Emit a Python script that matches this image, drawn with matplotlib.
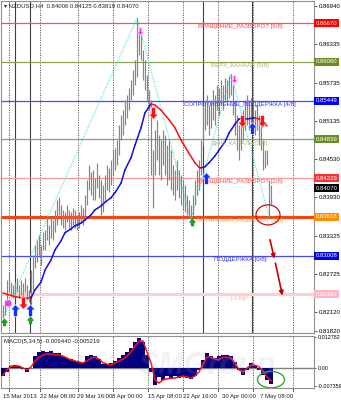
import numpy as np
import matplotlib.pyplot as plt
from matplotlib.path import Path
from matplotlib.patches import Ellipse
from matplotlib.transforms import blended_transform_factory

plt.rcParams['font.family'] = ['Liberation Sans', 'DejaVu Sans']

# NZDUSD H4, every other bar (15 Mar - 7 May 2013)
high = [0.8223, 0.8231, 0.8263, 0.8275, 0.8259, 0.8255, 0.8259, 0.8266, 0.8255, 0.8263,
        0.8258, 0.8266, 0.8255, 0.8247, 0.8278, 0.8302, 0.8318, 0.8326, 0.8333, 0.8318,
        0.8338, 0.8341, 0.8365, 0.8349, 0.8360, 0.8357, 0.8373, 0.8389, 0.8393, 0.8381,
        0.8373, 0.8370, 0.8381, 0.8373, 0.8370, 0.8376, 0.8373, 0.8365, 0.8370, 0.8381,
        0.8376, 0.8396, 0.8420, 0.8444, 0.8433, 0.8436, 0.8423, 0.8447, 0.8428, 0.8420,
        0.8412, 0.8428, 0.8444, 0.8439, 0.8452, 0.8467, 0.8470, 0.8483, 0.8507, 0.8522,
        0.8530, 0.8546, 0.8554, 0.8565, 0.8578, 0.8593, 0.8609, 0.8675, 0.8656, 0.8648,
        0.8625, 0.8609, 0.8585, 0.8562, 0.8546, 0.8467, 0.8499, 0.8515, 0.8491, 0.8483,
        0.8499, 0.8491, 0.8475, 0.8483, 0.8467, 0.8444, 0.8436, 0.8452, 0.8436, 0.8428,
        0.8420, 0.8412, 0.8396, 0.8389, 0.8381, 0.8396, 0.8420, 0.8436, 0.8452, 0.8483,
        0.8538, 0.8546, 0.8554, 0.8538, 0.8546, 0.8562, 0.8554, 0.8570, 0.8565, 0.8578,
        0.8570, 0.8581, 0.8578, 0.8584, 0.8587, 0.8570, 0.8546, 0.8522, 0.8507, 0.8522,
        0.8530, 0.8546, 0.8554, 0.8546, 0.8549, 0.8538, 0.8530, 0.8538, 0.8522, 0.8515,
        0.8483, 0.8467, 0.8467, 0.8420, 0.84125]
low = [0.8203, 0.8207, 0.8231, 0.8244, 0.8237, 0.8234, 0.8239, 0.8244, 0.8234, 0.8239,
       0.8234, 0.8244, 0.8231, 0.8228, 0.8223, 0.8247, 0.8281, 0.8291, 0.8302, 0.8286,
       0.8310, 0.8310, 0.8326, 0.8318, 0.8329, 0.8326, 0.8338, 0.8349, 0.8365, 0.8349,
       0.8344, 0.8341, 0.8354, 0.8344, 0.8341, 0.8349, 0.8344, 0.8341, 0.8344, 0.8354,
       0.8349, 0.8357, 0.8381, 0.8404, 0.8396, 0.8389, 0.8389, 0.8407, 0.8392, 0.8365,
       0.8370, 0.8389, 0.8404, 0.8401, 0.8412, 0.8428, 0.8436, 0.8444, 0.8459, 0.8483,
       0.8491, 0.8507, 0.8518, 0.8530, 0.8546, 0.8554, 0.8570, 0.8582, 0.8617, 0.8609,
       0.8578, 0.8562, 0.8546, 0.8530, 0.8428, 0.8376, 0.8428, 0.8452, 0.8428, 0.8420,
       0.8444, 0.8428, 0.8412, 0.8420, 0.8404, 0.8396, 0.8389, 0.8404, 0.8392, 0.8381,
       0.8373, 0.8370, 0.8365, 0.8360, 0.8357, 0.8365, 0.8381, 0.8396, 0.8404, 0.8428,
       0.8475, 0.8499, 0.8507, 0.8491, 0.8502, 0.8515, 0.8507, 0.8530, 0.8522, 0.8538,
       0.8530, 0.8546, 0.8538, 0.8549, 0.8554, 0.8522, 0.8491, 0.8467, 0.8452, 0.8467,
       0.8483, 0.8499, 0.8507, 0.8499, 0.8502, 0.8499, 0.8491, 0.8499, 0.8475, 0.8467,
       0.8436, 0.8439, 0.8444, 0.8362, 0.83819]

# MACD(5,34,5) main and signal, every second bar
macd = [-0.0033, -0.0016, 0.0008, 0.0012, 0.0008, -0.0004, -0.0016, 0.0000, 0.0049, 0.0066,
        0.0070, 0.0066, 0.0070, 0.0062, 0.0062, 0.0049, 0.0041, 0.0037, 0.0029, 0.0025,
        0.0025, 0.0049, 0.0054, 0.0049, 0.0037, 0.0016, 0.0016, 0.0021, 0.0029, 0.0041,
        0.0054, 0.0066, 0.0082, 0.0107, 0.0124, 0.0107, 0.0054, -0.0016, -0.0070, -0.0037,
        -0.0049, -0.0033, -0.0045, -0.0033, -0.0041, -0.0037, -0.0041, -0.0045, -0.0033, -0.0008,
        0.0033, 0.0062, 0.0049, 0.0041, 0.0049, 0.0054, 0.0054, 0.0049, 0.0025, -0.0008,
        -0.0029, -0.0008, 0.0021, 0.0012, -0.0008, -0.0029, -0.0049, -0.00644]
signal = [-0.0029, -0.0008, 0.0008, 0.0008, 0.0008, 0.0000, -0.0008, 0.0004, 0.0029, 0.0045,
          0.0054, 0.0058, 0.0058, 0.0054, 0.0054, 0.0049, 0.0041, 0.0033, 0.0029, 0.0025,
          0.0021, 0.0029, 0.0041, 0.0045, 0.0037, 0.0021, 0.0016, 0.0012, 0.0021, 0.0029,
          0.0037, 0.0049, 0.0066, 0.0091, 0.0111, 0.0111, 0.0066, 0.0021, -0.0049, -0.0062,
          -0.0049, -0.0045, -0.0041, -0.0041, -0.0037, -0.0033, -0.0037, -0.0041, -0.0033, -0.0016,
          0.0016, 0.0045, 0.0045, 0.0037, 0.0033, 0.0045, 0.0045, 0.0041, 0.0021, -0.0008,
          -0.0016, 0.0000, 0.0012, 0.0012, 0.0004, -0.0012, -0.0037, -0.005219]

# two-colour moving average (bar index, value)
ma_idx = [0, 4, 8, 14, 16, 19, 21, 24, 26, 29, 31, 34, 36, 39, 41, 44, 46, 49, 51, 54,
          56, 59, 61, 64, 66, 69, 71, 73, 74, 76, 79, 83, 86, 89, 93, 96, 98, 99, 101, 103,
          106, 108, 111, 113, 116, 118, 120, 122, 124, 126, 128, 130, 132]
ma_val = [0.8242, 0.8238, 0.8235, 0.8234, 0.8247, 0.8259, 0.8278, 0.8294, 0.8310, 0.8324,
          0.8337, 0.8343, 0.8348, 0.8352, 0.8357, 0.8365, 0.8373, 0.8379, 0.8385, 0.8392,
          0.8400, 0.8415, 0.8436, 0.8455, 0.8475, 0.8502, 0.8526, 0.8535, 0.8540, 0.8538,
          0.8530, 0.8515, 0.8502, 0.8483, 0.8462, 0.8447, 0.8440, 0.8439, 0.8441, 0.8447,
          0.8458, 0.8467, 0.8480, 0.8494, 0.8508, 0.8516, 0.8518, 0.8516, 0.8517, 0.8518,
          0.8516, 0.8512, 0.8505]

zigzag_idx = [0, 67, 94, 114, 133]
zigzag_kind = ['low', 'high', 'low', 'high', 'low']

levels = [0.86670, 0.86060, 0.85449, 0.84839, 0.84229, 0.83618, 0.83008, 0.82397]
level_names = ['ВРАЩЕНИЕ_РАЗВОРОТ [6/8]', 'ВЕРХ_КАНАЛА [5/8]',
               'СОПРОТИВЛЕНИЕ_ПОДДЕРЖКА [4/8]', 'ДНО_КАНАЛА [3/8]',
               'ВРАЩЕНИЕ_РАЗВОРОТ [2/8]', 'ОСТАНОВКА_РАЗВОРОТ [1/8]',
               'ПОДДЕРЖКА [0/8]', '[-1/8]P']
level_colors = ['#ff5050', '#8fa050', '#4848ff', '#8fa050',
                '#ff9a9a', '#ff4010', '#4848ff', '#ffd0d0']
text_colors = ['#ff4848', '#a8b470', '#3838ff', '#a8b470',
               '#ff5050', '#f0a040', '#3838ff', '#ffb0b0']
box_colors = ['#ff0000', '#6b8e23', '#0000ff', '#6b8e23',
              '#ff3030', '#ff8c00', '#0000ee', '#ffb6c1']

price_ticks = [0.86940, 0.86335, 0.85735, 0.85135, 0.84530, 0.83930,
               0.83325, 0.82725, 0.82120, 0.81820]
last_close = 0.84070

time_labels = ['15 Mar 2013', '22 Mar 08:00', '29 Mar 16:00', '8 Apr 00:00',
               '15 Apr 08:00', '22 Apr 16:00', '30 Apr 00:00', '7 May 08:00']
time_label_pos = [0, 18.5, 37, 54.5, 72.5, 90, 109.5, 128.5]
grid_pos = [3, 18.5, 37.5, 55, 72.5, 90, 107.5, 125, 145]
solid_vlines = [6, 13.5, 100, 124.5]


def arrow_path(up=True):
    v = [(0, 1), (-0.8, 0.1), (-0.32, 0.1), (-0.32, -1), (0.32, -1), (0.32, 0.1), (0.8, 0.1), (0, 1)]
    if not up:
        v = [(x, -y) for x, y in v]
    return Path(v, closed=True)


UP = arrow_path(True)
DOWN = arrow_path(False)

W, H = 341, 400
fig = plt.figure(figsize=(W / 100, H / 100), dpi=100)
ax = fig.add_axes([1 / W, 1 - 333 / H, 313 / W, 332 / H])
ax2 = fig.add_axes([1 / W, 1 - 388 / H, 313 / W, 52 / H])

idx = np.arange(len(high))
ax.set_xlim(-1, 155.5)
ax.set_ylim(0.81790, 0.87019)
ax2.set_xlim(-1, 155.5)
ax2.set_ylim(-0.00824, 0.0132)

for a in (ax, ax2):
    for s in a.spines.values():
        s.set_color('#909090')
        s.set_linewidth(0.8)
    a.set_xticks([])
    for g in grid_pos:
        a.axvline(g, color='#505050', lw=0.6, ls=(0, (1.5, 1.5)), zorder=1)

for v in solid_vlines:
    ax.axvline(v, color='#404040', lw=0.8, zorder=1)

# level lines and labels
for lv, name, lc, tc in zip(levels, level_names, level_colors, text_colors):
    lw = 2.2 if '1/8' in name else 0.9
    ax.axhline(lv, color=lc, lw=lw, zorder=2)
    ax.text(118.5, lv - 0.0002, name, color=tc, fontsize=4.4, ha='center', va='top', zorder=6)

# zigzag
zz_y = [high[i] if k == 'high' else low[i] for i, k in zip(zigzag_idx, zigzag_kind)]
ax.plot(zigzag_idx, zz_y, color='#40e0e0', lw=0.8, ls=(0, (1, 1.2)), zorder=3)

# price bars
ax.vlines(idx, low, high, color='#858585', lw=0.85, zorder=4)

# two-colour MA
mi = np.array(ma_idx)
mv = np.array(ma_val)
for k in range(len(mi) - 1):
    c = '#1010e0' if mv[k + 1] >= mv[k] else '#ff1010'
    ax.plot(mi[k:k + 2], mv[k:k + 2], color=c, lw=1.1, zorder=5, solid_capstyle='round')

# signal arrows
ax.plot([6, 13.5, 101.5, 124.5], [0.8215, 0.8215, 0.8423, 0.8502], ls='none', marker=UP,
        ms=8.5, color='#1030ff', mec='white', mew=0.4, zorder=7)
ax.plot([10, 75, 119.5, 129.5], [0.8226, 0.8526, 0.8513, 0.8513], ls='none', marker=DOWN,
        ms=8.5, color='#ff1010', mec='white', mew=0.4, zorder=7)
ax.plot([68.5, 115.5], [0.8655, 0.8579], ls='none', marker=DOWN, ms=5.5,
        color='#ff30ff', mec='white', mew=0.3, zorder=7)
ax.plot([0.5, 13.5, 94.5], [0.8196, 0.8200, 0.8354], ls='none', marker=UP, ms=4.5,
        color='#20a020', zorder=7)
ax.plot([2.5], [0.8226], ls='none', marker='o', ms=3.5, color='#ff30ff', zorder=7)

ax.add_patch(Ellipse((132.5, 0.8365), 12, 0.00315, fill=False, ec='#c01010', lw=0.9, zorder=8))
for (x0, y0, x1, y1) in [(133.5, 0.8326, 135.7, 0.8296), (136.2, 0.8289, 139.7, 0.8238)]:
    ax.annotate('', xy=(x1, y1), xytext=(x0, y0),
                arrowprops=dict(arrowstyle='-|>', color='#c80000', lw=1.2,
                                mutation_scale=6, shrinkA=0, shrinkB=0), zorder=8)

# right price scale
ax.yaxis.tick_right()
ax.set_yticks(price_ticks)
ax.set_yticklabels(['%.5f' % p for p in price_ticks], fontsize=4.3)
ax.tick_params(axis='y', length=2, width=0.6, pad=1.5, color='#404040')
tr = ax.get_yaxis_transform()
for lv, bc in zip(levels, box_colors):
    ax.text(1.006, lv, '%.5f' % lv, transform=tr, fontsize=4.3, color='white',
            va='center', ha='left', clip_on=False, zorder=9,
            bbox=dict(boxstyle='square,pad=0.25', fc=bc, ec='none'))
ax.text(1.006, last_close, '%.5f' % last_close, transform=tr, fontsize=4.3, color='white',
        va='center', ha='left', clip_on=False, zorder=9,
        bbox=dict(boxstyle='square,pad=0.25', fc='black', ec='none'))

ax.text(0.01, 0.993, '\u25be NZDUSD,H4  0.84006 0.84125 0.83819 0.84070', transform=ax.transAxes,
        fontsize=4.3, va='top', ha='left', color='#202020', zorder=10)

# MACD panel
midx = idx[::2]
ax2.bar(midx, macd, width=2.0, color='#000080', zorder=3)
ax2.plot(midx, signal, color='#ff1010', lw=1.1, zorder=4)
ax2.axhline(0, color='#808080', lw=1.0, zorder=2)
ax2.add_patch(Ellipse((134, -0.0048), 13.5, 0.0068, fill=False, ec='#20a020', lw=0.9, zorder=6))
ax2.text(0.01, 0.95, 'MACD(5,34,5) -0.006440 -0.005219', transform=ax2.transAxes,
         fontsize=4.3, va='top', ha='left', color='#202020', zorder=10)
ax2.text(0.66, 0.42, 'SMGroup', transform=ax2.transAxes, fontsize=22, fontweight='bold',
         fontstyle='italic', color='#b0b0b0', alpha=0.16, ha='center', va='center', zorder=9)

ax2.yaxis.tick_right()
ax2.set_yticks([0.012782, 0.0, -0.007359])
ax2.set_yticklabels(['0.012782', '0.00', '-0.007359'], fontsize=3.9)
ax2.tick_params(axis='y', length=1.5, width=0.6, pad=1.0, color='#404040')

tb = blended_transform_factory(ax2.transData, ax2.transAxes)
for lab, p in zip(time_labels, time_label_pos):
    ax2.text(p, -0.12, lab, transform=tb, fontsize=4.3, va='top', ha='left',
             color='#202020', clip_on=False)
for g in grid_pos:
    ax2.plot([g, g], [0, -0.05], transform=tb, color='#404040', lw=0.6, clip_on=False)

fig.savefig('out.png', dpi=100, facecolor='white')
